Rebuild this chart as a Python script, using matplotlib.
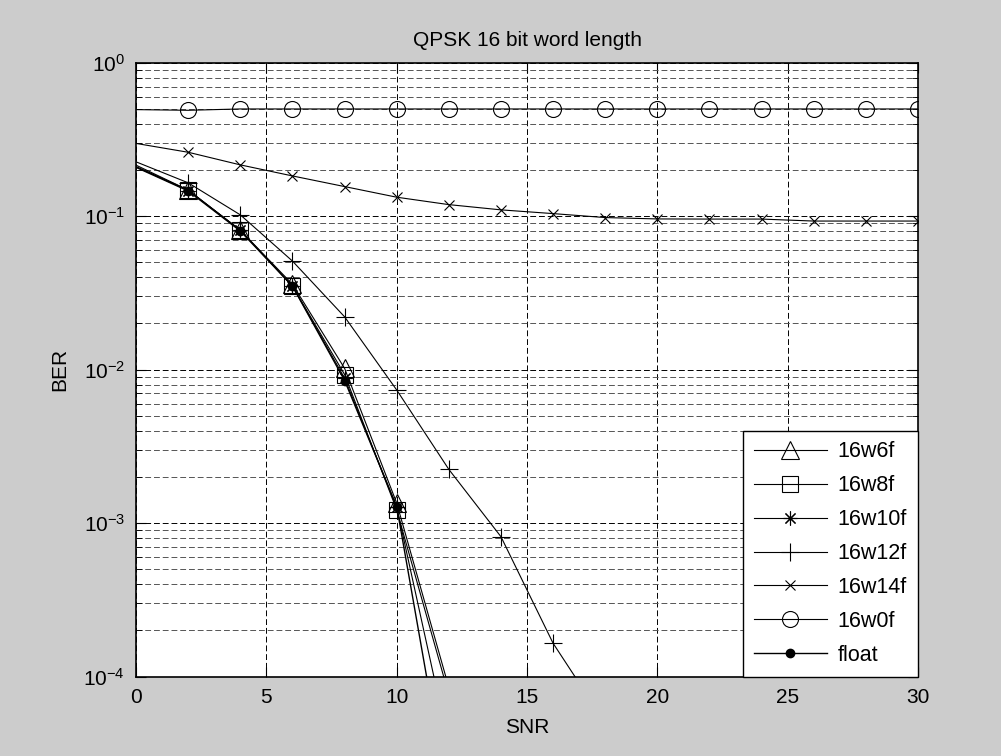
import numpy as np
import matplotlib
matplotlib.use('Agg')
import matplotlib.pyplot as plt
from matplotlib.ticker import LogLocator, NullFormatter

plt.rcParams['font.family'] = ['Liberation Sans', 'DejaVu Sans']
plt.rcParams['mathtext.fontset'] = 'custom'
plt.rcParams['mathtext.rm'] = 'Liberation Sans'
plt.rcParams['axes.unicode_minus'] = False

# SNR points (dB)
snr = np.arange(0, 31, 2)
nan = np.nan

ber_16w6f = [0.215, 0.148, 0.081, 0.036, 0.0102, 0.00135, 8.5e-5] + [nan] * 9
ber_16w8f = [0.21, 0.148, 0.081, 0.035, 0.0093, 0.00122, 7.6e-5] + [nan] * 9
ber_16w10f = [0.21, 0.147, 0.081, 0.035, 0.0088, 0.00127, 3.6e-5] + [nan] * 9
ber_16w12f = [0.226, 0.165, 0.102, 0.051, 0.0221, 0.00737, 0.00224, 0.000816,
              0.000165, 5e-5] + [nan] * 6
ber_16w14f = [0.298, 0.261, 0.216, 0.183, 0.156, 0.133, 0.119, 0.110, 0.104,
              0.098, 0.096, 0.0958, 0.0958, 0.093, 0.093, 0.093]
ber_16w0f = [0.495, 0.49, 0.5, 0.5, 0.5, 0.5, 0.5, 0.5, 0.5, 0.5, 0.5, 0.5,
             0.5, 0.5, 0.5, 0.5]
ber_float = [0.208, 0.146, 0.080, 0.035, 0.0085, 0.00128, 1.5e-5] + [nan] * 9

fig = plt.figure(figsize=(10.01, 7.56), dpi=100, facecolor='#cccccc')
ax = fig.add_axes([0.136, 0.105, 0.781, 0.812])
ax.set_facecolor('white')

lw = 0.8
me = slice(1, None)
ax.semilogy(snr, ber_16w6f, 'k-', lw=lw, marker='^', ms=13, mfc='none', mew=0.8, markevery=me, label='16w6f')
ax.semilogy(snr, ber_16w8f, 'k-', lw=lw, marker='s', ms=11.5, mfc='none', mew=0.8, markevery=me, label='16w8f')
ax.semilogy(snr, ber_16w10f, 'k-', lw=lw, marker=(8, 2, 0), ms=10, mew=0.8, markevery=me, label='16w10f')
ax.semilogy(snr, ber_16w12f, 'k-', lw=lw, marker='+', ms=13, mew=0.8, markevery=me, label='16w12f')
ax.semilogy(snr, ber_16w14f, 'k-', lw=lw, marker='x', ms=7, mew=0.8, markevery=me, label='16w14f')
ax.semilogy(snr, ber_16w0f, 'k-', lw=lw, marker='o', ms=11.5, mfc='none', mew=0.8, markevery=me, label='16w0f')
ax.semilogy(snr, ber_float, 'k-', lw=1.0, marker='o', ms=6, mfc='k', markevery=me, label='float')

ax.set_xlim(0, 30)
ax.set_ylim(1e-4, 1)
ax.set_xticks([0, 5, 10, 15, 20, 25, 30])
ax.yaxis.set_major_locator(LogLocator(base=10, numticks=10))
ax.yaxis.set_minor_locator(LogLocator(base=10, subs=np.arange(2, 10), numticks=20))
ax.yaxis.set_minor_formatter(NullFormatter())

ax.grid(True, which='major', axis='both', color='k', linestyle=(0, (6, 3)), linewidth=0.7)
ax.grid(True, which='minor', axis='y', color='#555555', linestyle=(0, (6, 3)), linewidth=0.7)
ax.set_axisbelow(True)

ax.tick_params(which='both', direction='in', top=True, right=True, labelsize=15, color='k')
ax.tick_params(which='major', length=7, pad=8)
ax.tick_params(which='minor', length=4)
for s in ax.spines.values():
    s.set_linewidth(1.2)

ax.set_title('QPSK 16 bit word length', fontsize=15, pad=12)
ax.set_xlabel('SNR', fontsize=15, labelpad=8)
ax.set_ylabel('BER', fontsize=15, labelpad=10)

leg = ax.legend(loc='lower right', fontsize=15.5, fancybox=False, framealpha=1,
                edgecolor='k', borderaxespad=0, handlelength=3.4,
                handletextpad=0.5, labelspacing=0.6, borderpad=0.5)
leg.get_frame().set_linewidth(1.0)

fig.savefig('out.png', dpi=100, facecolor=fig.get_facecolor())
